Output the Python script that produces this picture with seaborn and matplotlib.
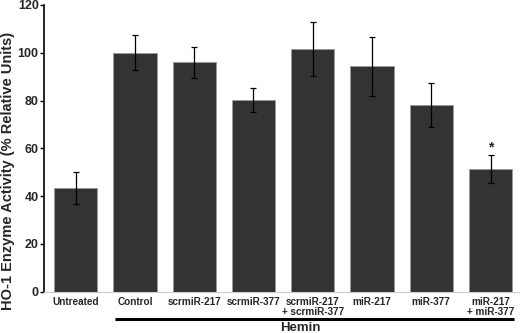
import matplotlib
matplotlib.use("Agg")
import matplotlib.pyplot as plt
import matplotlib.transforms as mtransforms
import numpy as np
import pandas as pd
import seaborn as sns

categories = ["Untreated", "Control", "scrmiR-217", "scrmiR-377",
              "scrmiR-217\n+ scrmiR-377", "miR-217", "miR-377",
              "miR-217\n+ miR-377"]
activity = [43.2, 100.1, 96.1, 80.1, 101.5, 94.3, 78.2, 51.3]
errors = [6.7, 7.2, 6.5, 5.0, 11.3, 12.3, 9.2, 5.8]

sns.set_style("white")
plt.rcParams["font.family"] = ["Liberation Sans", "DejaVu Sans"]
plt.rcParams["font.weight"] = "bold"

df = pd.DataFrame({"group": categories, "activity": activity})

fig = plt.figure(figsize=(5.2, 3.33), dpi=100)
ax = fig.add_axes([0.085, 0.124, 0.913, 0.861])

sns.barplot(data=df, x="group", y="activity", color="#333333",
            saturation=1, width=0.73, edgecolor="#9a9a9a", linewidth=0.6, ax=ax)
x = np.arange(len(categories))
ax.errorbar(x, activity, yerr=errors, fmt="none", ecolor="black",
            elinewidth=0.9, capsize=2.2, capthick=0.9)

# significance marker
ax.text(x[-1], activity[-1] + errors[-1] + 3.2, "*", ha="center", va="center",
        fontsize=10, fontweight="bold")

ax.set_ylim(0, 120)
ax.set_xlim(-0.53, 7.48)
ax.set_yticks(range(0, 121, 20))
ax.set_xlabel("")
ax.set_ylabel("HO-1 Enzyme Activity (% Relative Units)", fontsize=10.5,
              fontweight="bold")
ax.yaxis.set_label_coords(-0.061, 0.42)
ax.tick_params(axis="y", length=3, width=1, color="black", labelsize=9, pad=1,
               left=True)
ax.tick_params(axis="x", length=0, labelsize=7.2, pad=3.5)
for lab in ax.get_xticklabels():
    lab.set_fontweight("bold")
    lab.set_linespacing(1.05)
for lab in ax.get_yticklabels():
    lab.set_fontweight("bold")

sns.despine(ax=ax)
ax.spines["left"].set_color("black")
ax.spines["left"].set_linewidth(1.2)
ax.spines["bottom"].set_color("#cccccc")
ax.spines["bottom"].set_linewidth(0.8)

# Hemin bracket under the treated groups
trans = mtransforms.blended_transform_factory(ax.transData, ax.transAxes)
ax.plot([0.67, 7.39], [-0.096, -0.096], color="black", linewidth=2.2,
        transform=trans, clip_on=False, solid_capstyle="butt")
ax.text(3.79, -0.136, "Hemin", transform=trans, ha="center", va="baseline",
        fontsize=9.5, fontweight="bold")

fig.savefig("out.png", dpi=100)
